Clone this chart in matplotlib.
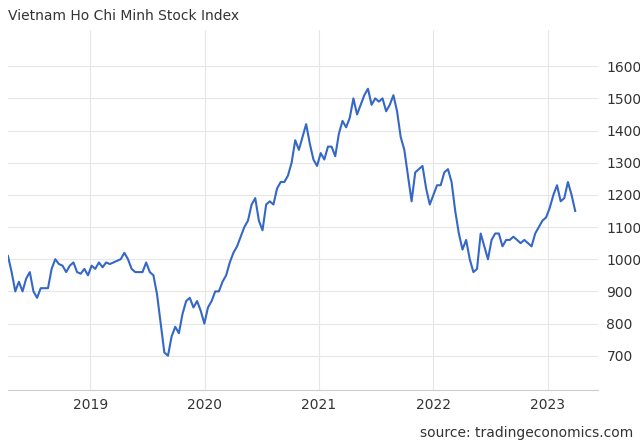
import numpy as np
import matplotlib.pyplot as plt

# readings: (week number counted from ~Apr 2018, index level)
readings = [(0, 1010), (1, 960), (2, 900), (3, 930), (4, 900), (5, 940), (6, 960), (7, 900), (8, 880),
    (9, 910), (11, 910), (12, 970), (13, 1000), (14, 985), (15, 980), (16, 960), (17, 980), (18, 990),
    (19, 960), (20, 955), (21, 970), (22, 950), (23, 980), (24, 970), (25, 990), (26, 975), (27, 990),
    (28, 985), (30, 995), (31, 1000), (32, 1020), (33, 1000), (34, 970), (35, 960), (37, 960), (38, 990),
    (39, 960), (40, 950), (41, 890), (42, 800), (43, 710), (44, 700), (45, 760), (46, 790), (47, 770),
    (48, 830), (49, 870), (50, 880), (51, 850), (52, 870), (53, 840), (54, 800), (55, 850), (56, 870),
    (57, 900), (58, 900), (59, 930), (60, 950), (61, 990), (62, 1020), (63, 1040), (64, 1070), (65, 1100),
    (66, 1120), (67, 1170), (68, 1190), (69, 1120), (70, 1090), (71, 1170), (72, 1180), (73, 1170),
    (74, 1220), (75, 1240), (76, 1240), (77, 1260), (78, 1300), (79, 1370), (80, 1340), (81, 1380),
    (82, 1420), (83, 1360), (84, 1310), (85, 1290), (86, 1330), (87, 1310), (88, 1350), (89, 1350),
    (90, 1320), (91, 1390), (92, 1430), (93, 1410), (94, 1440), (95, 1500), (96, 1450), (97, 1480),
    (98, 1510), (99, 1530), (100, 1480), (101, 1500), (102, 1490), (103, 1500), (104, 1460), (105, 1480),
    (106, 1510), (107, 1460), (108, 1380), (109, 1340), (110, 1260), (111, 1180), (112, 1270), (113, 1280),
    (114, 1290), (115, 1220), (116, 1170), (117, 1200), (118, 1230), (119, 1230), (120, 1270), (121, 1280),
    (122, 1240), (123, 1150), (124, 1080), (125, 1030), (126, 1060), (127, 1000), (128, 960), (129, 970),
    (130, 1080), (131, 1040), (132, 1000), (133, 1060), (134, 1080), (135, 1080), (136, 1040), (137, 1060),
    (138, 1060), (139, 1070), (140, 1060), (141, 1050), (142, 1060), (143, 1050), (144, 1040), (145, 1080),
    (146, 1100), (147, 1120), (148, 1130), (149, 1160), (150, 1200), (151, 1230), (152, 1180), (153, 1190),
    (154, 1240), (155, 1200), (156, 1150)]
x_ticks = [2019, 2020, 2021, 2022, 2023]
y_ticks = [700, 800, 900, 1000, 1100, 1200, 1300, 1400, 1500, 1600]

# my readings were spaced about 1.3 weeks apart; map onto the time axis
start_year, end_year = 2018.28, 2023.24
week = np.array([r[0] for r in readings], dtype=float)
dates = start_year + week / week.max() * (end_year - start_year)
hcm_index = [r[1] for r in readings]

fig = plt.figure(figsize=(6.4, 4.44), dpi=100)
ax = fig.add_axes([0.0125, 0.122, 0.922, 0.81])
ax.plot(dates, hcm_index, color='#3567c7', lw=1.5)
ax.set_xlim(2018.28, 2023.44)
ax.set_ylim(594, 1712)
ax.set_xticks(x_ticks)
ax.set_xticklabels([str(t) for t in x_ticks])
ax.set_yticks(y_ticks)
ax.yaxis.tick_right()
ax.grid(color='#e6e6e6', lw=0.8)
for s in ['top', 'left', 'right']:
    ax.spines[s].set_visible(False)
ax.spines['bottom'].set_color('#cccccc')
ax.tick_params(length=0, labelsize=10, colors='#333333', pad=6)
fig.text(0.012, 0.955, 'Vietnam Ho Chi Minh Stock Index', fontsize=10, color='#333333')
fig.text(0.99, 0.015, 'source: tradingeconomics.com', fontsize=10, color='#333333', ha='right')
plt.savefig('out.png')
